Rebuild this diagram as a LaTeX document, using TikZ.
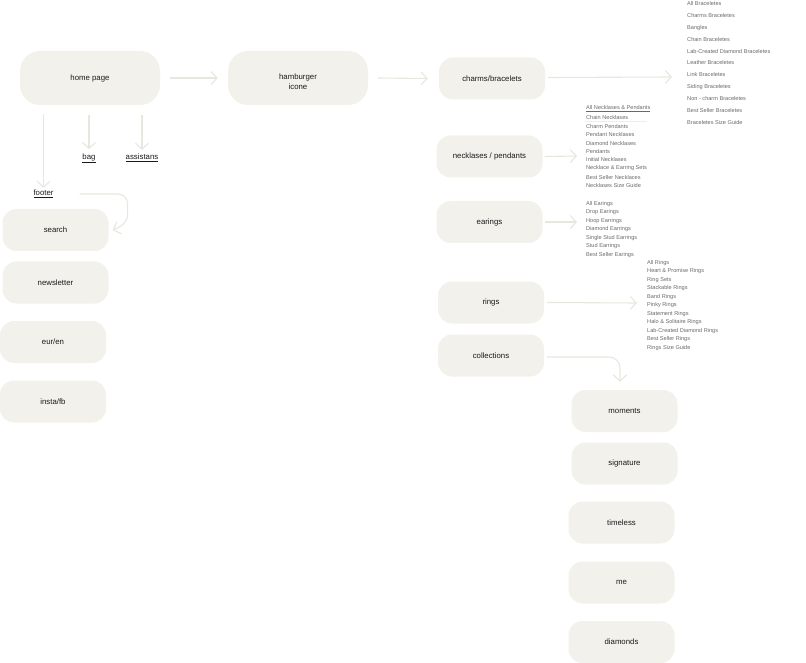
\documentclass[tikz,border=0pt]{standalone}
\usepackage{fontspec}
\setmainfont{Liberation Sans}
\usetikzlibrary{arrows.meta}
\definecolor{boxc}{HTML}{F3F1EC}
\definecolor{linec}{HTML}{E8E6DF}
\definecolor{txtc}{HTML}{1A1A1A}
\definecolor{listc}{HTML}{6A6A6A}
\tikzset{
  bigbox/.style={fill=boxc, rounded corners=20pt, minimum width=140pt, minimum height=54pt, text=txtc, font=\fontsize{7.8}{10}\selectfont, align=center},
  smallbox/.style={fill=boxc, rounded corners=14pt, minimum width=106pt, minimum height=42pt, text=txtc, font=\fontsize{7.8}{10}\selectfont},
  conn/.style={draw=linec, line width=1.1pt, -{Straight Barb[length=6pt,width=13pt]}},
  listtxt/.style={anchor=west, inner sep=0pt, text=listc, font=\fontsize{5.6}{6}\selectfont},
  linktxt/.style={inner sep=1pt, text=txtc, font=\fontsize{7.8}{9}\selectfont}
}
\begin{document}
\begin{tikzpicture}[x=1pt,y=-1pt]
\useasboundingbox (0,0) rectangle (806,663);
% main boxes
\node[bigbox] (home) at (90,78) {home page};
\node[bigbox, minimum height=54pt] (ham) at (298,78) {};
\node[text=txtc, font=\fontsize{7.8}{10}\selectfont, align=center] (hamt) at (298,82) {hamburger\\icone};
\node[smallbox] (charms) at (492,78.5) {charms/bracelets};
\node[smallbox] (neck) at (489.5,156.5) {necklases / pendants};
\node[smallbox] (ear) at (489.5,222) {earings};
\node[smallbox] (rings) at (491,302.5) {rings};
\node[smallbox] (coll) at (491,355.5) {collections};
\node[smallbox] (mom) at (624.5,411) {moments};
\node[smallbox] (sig) at (624.5,463.5) {signature};
\node[smallbox] (time) at (621.5,522.5) {timeless};
\node[smallbox] (me) at (621.5,582.5) {me};
\node[smallbox] (dia) at (621.5,642) {diamonds};
\node[smallbox] (search) at (55.5,230) {search};
\node[smallbox] (news) at (55.5,282.5) {newsletter};
\node[smallbox] (eur) at (53,342) {eur/en};
\node[smallbox] (insta) at (53,401.5) {insta/fb};
% link labels
\node[linktxt] (footer) at (43.5,194) {\underline{footer}};
\node[linktxt] (bag) at (89,158) {\underline{bag}};
\node[linktxt] (assist) at (142,158) {\underline{assistans}};
% bracelet list
\foreach \t [count=\i from 0] in {All Braceletes,Charms Braceletes,Bangles,Chain Braceletes,Lab-Created Diamond Braceletes,Leather Braceletes,Link Braceletes,Siding Braceletes,Non - charm Braceletes,Best Seller Braceletes,Braceletes Size Guide}
  \node[listtxt] (br\i) at (687,{4+11.8*\i}) {\t};
% necklace list
\node[listtxt] (nk0) at (586,109) {\underline{All Necklases \& Pendants}};
\foreach \t [count=\i from 1] in {Chain Necklases,Charm Pendants,Pendant Necklases,Diamond Necklases,Pendants,Initial Necklases,Necklace \& Earring Sets,Best Seller Necklaces,Necklases Size Guide}
  \node[listtxt] (nk\i) at (586,{109+8.5*\i}) {\t};
\draw[draw=listc!12, line width=0.5pt] (585,121.5) -- (647,121.5);
% earings list
\foreach \t [count=\i from 0] in {All Earings,Drop Earings,Hoop Earrings,Diamond Earrings,Single Stud Earrings,Stud Earrings,Best Seller Earings}
  \node[listtxt] (er\i) at (586,{204+8.5*\i}) {\t};
% rings list
\foreach \t [count=\i from 0] in {All Rings,Heart \& Promise Rings,Ring Sets,Stackable Rings,Band Rings,Pinky Rings,Statement Rings,Halo \& Solitaire Rings,Lab-Created Diamond Rings,Best Seller Rings,Rings Size Guide}
  \node[listtxt] (rg\i) at (647,{263+8.5*\i}) {\t};
% free ends
\coordinate (brend) at (672,77);
\coordinate (nkend) at (577,156);
\coordinate (erend) at (577,222);
\coordinate (rgend) at (637,303);
% connectors
\draw[conn] ([xshift=10pt]home.east) -- ([xshift=-10pt]ham.west);
\draw[conn] ([xshift=10pt]ham.east) -- ([xshift=-11pt]charms.west);
\draw[conn] ([xshift=3pt,yshift=1pt]charms.east) -- (brend);
\draw[conn] ([xshift=2pt]neck.east) -- (nkend);
\draw[conn] ([xshift=2pt]ear.east) -- (erend);
\draw[conn] ([xshift=3pt]rings.east) -- (rgend);
\draw[conn, rounded corners=11pt] ([xshift=3pt,yshift=-1.5pt]coll.east) -| ([xshift=-4.5pt,yshift=8pt]mom.north);
\draw[conn] ([yshift=-9pt]home.south -| footer.north) -- ([yshift=1pt]footer.north);
\draw[conn] ([yshift=-10pt]home.south -| bag.north) -- ([yshift=3pt]bag.north);
\draw[conn] ([yshift=-10pt]home.south -| assist.north) -- ([yshift=3pt]assist.north);
\draw[conn] ([xshift=25pt]footer.east) -- ++(38pt,0) to[out=0,in=90] ++(10pt,-10pt) -- ++(0,-10pt) to[out=-90,in=20] ([xshift=4pt]search.east);
\end{tikzpicture}
\end{document}
